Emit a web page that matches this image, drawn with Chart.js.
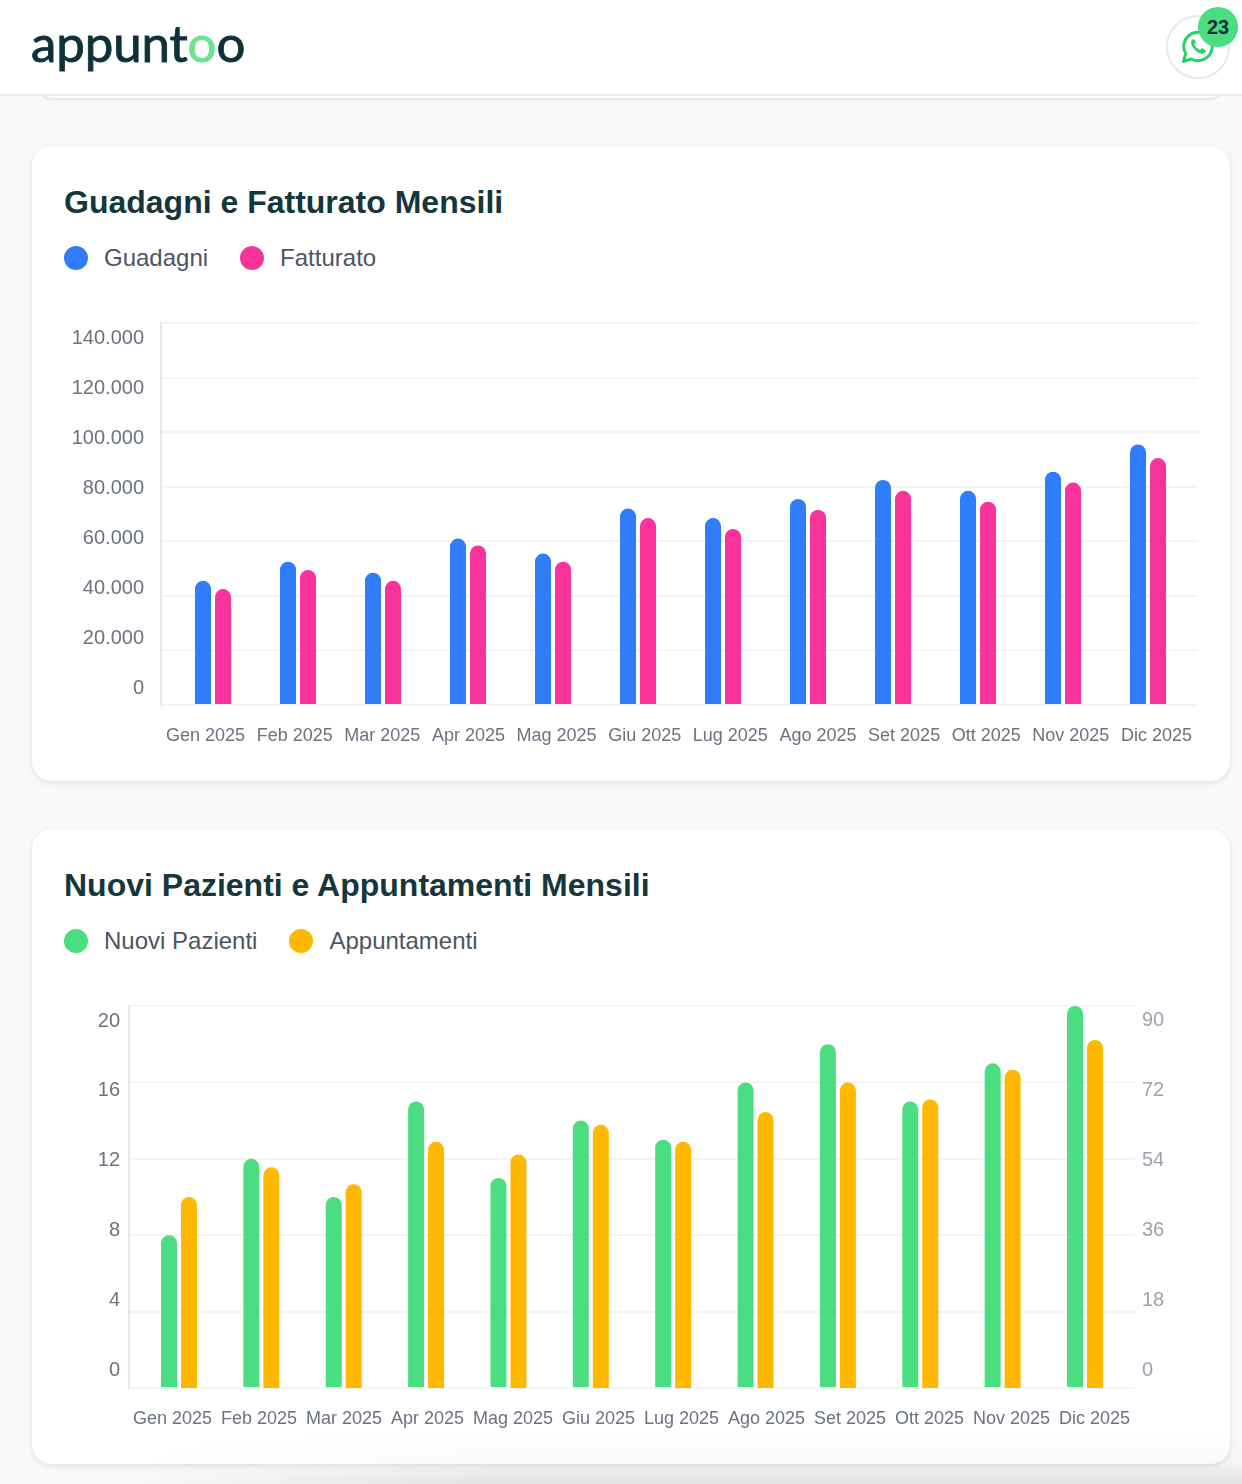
<!DOCTYPE html>
<html lang="it">
<head>
<meta charset="utf-8">
<title>Appuntoo</title>
<script src="https://cdn.jsdelivr.net/npm/chart.js@4"></script>
<style>
html, body { margin: 0; padding: 0; }
body { width: 1242px; height: 1484px; position: relative; overflow: hidden; background: #f8f9fb; font-family: "Liberation Sans", Arial, sans-serif; }
.header { position: absolute; left: 0; top: 0; width: 1242px; height: 94px; background: #fff; border-bottom: 2px solid #e8e9eb; z-index: 2; }
.logo { position: absolute; left: 31px; top: 8px; font: 400 51px/70px Lato, sans-serif; letter-spacing: -0.1px; color: #0f3139; -webkit-text-stroke: 0.9px #0f3139; }
.logo span { color: #6ee28f; -webkit-text-stroke: 0.9px #6ee28f; }
.wa { position: absolute; left: 1166px; top: 15px; width: 60px; height: 60px; border: 2px solid #e8e9eb; border-radius: 50%; background: #fff; }
.wa svg { position: absolute; left: 13px; top: 13px; }
.badge { position: absolute; left: 1198px; top: 7px; width: 40px; height: 40px; border-radius: 50%; background: #4ade80; color: #0f3139; font: 700 20px/40px "Liberation Sans", Arial, sans-serif; text-align: center; }
.stub { position: absolute; left: 36px; top: 60px; width: 1190px; height: 38px; background: #fff; border-radius: 16px; box-shadow: 0 1px 3px rgba(0,0,0,.14); }
.card { position: absolute; left: 32px; width: 1198px; background: #fff; border-radius: 20px; box-shadow: 0 2px 6px rgba(0,0,0,.10); }
.card h2 { position: absolute; left: 32px; top: 36px; margin: 0; font: 700 32px/40px "Liberation Sans", Arial, sans-serif; color: #15363b; white-space: nowrap; }
.legend { position: absolute; left: 32px; top: 96px; display: flex; gap: 32px; font: 400 24px/32px "Liberation Sans", Arial, sans-serif; color: #4b5563; }
.legend div { display: flex; align-items: center; gap: 16px; }
.legend i { display: block; width: 24px; height: 24px; border-radius: 50%; }
.card canvas { position: absolute; left: 0; top: 0; }
.fade { position: absolute; left: 0; top: 1430px; width: 1242px; height: 54px; background: linear-gradient(to bottom, rgba(0,0,0,0), rgba(0,0,0,.02) 60%, rgba(0,0,0,.09)); -webkit-mask-image: linear-gradient(to right, transparent 100px, #000 500px); mask-image: linear-gradient(to right, transparent 100px, #000 500px); }
</style>
</head>
<body>
<div class="stub"></div>
<div class="header">
  <div class="logo">appunt<span>o</span>o</div>
</div>
<div class="wa" style="z-index:3">
  <svg width="34" height="34" viewBox="0 0 34 34" fill="none">
    <path d="M2.5 31.5l2.2-8A14.2 14.2 0 1 1 10.4 29z" stroke="#25d366" stroke-width="3" stroke-linejoin="round"/>
    <path d="M11.5 9.5c-1.5 1.2-2 3-1.2 5 1.7 4.300 5 7.500 9.200 9 2 .7 3.800 0 5-1.500.6-.8.500-1.500-.2-2l-2.600-1.500c-.7-.4-1.200-.2-1.700.4l-.8 1c-2.700-1-4.800-3-5.900-5.700l.9-.9c.5-.5.6-1 .3-1.700L13.700 9.900c-.4-.8-1.300-1-2.200-.4z" fill="#25d366"/>
  </svg>
</div>
<div class="badge" style="z-index:4">23</div>

<div class="card" style="top:146px;height:635px">
  <h2>Guadagni e Fatturato Mensili</h2>
  <div class="legend" id="legend1"></div>
  <canvas id="chart1"></canvas>
</div>
<div class="card" style="top:829px;height:635px">
  <h2>Nuovi Pazienti e Appuntamenti Mensili</h2>
  <div class="legend" id="legend2"></div>
  <canvas id="chart2"></canvas>
</div>
<div class="fade"></div>

<script>
const months = ["Gen 2025","Feb 2025","Mar 2025","Apr 2025","Mag 2025","Giu 2025","Lug 2025","Ago 2025","Set 2025","Ott 2025","Nov 2025","Dic 2025"];

const guadagni = [45500,52500,48500,61000,55500,72000,68500,75500,82500,78500,85500,95500];
const fatturato = [42500,49500,45500,58500,52500,68500,64500,71500,78500,74500,81500,90500];
const moneyTicks = [0,20000,40000,60000,80000,100000,120000,140000];

const nuoviPazienti = [8,12,10,15,11,14,13,16,18,15,17,20];
const appuntamenti = [45,52,48,58,55,62,58,65,72,68,75,82];
const patientTicks = [0,4,8,12,16,20];
const visitTicks = [0,18,36,54,72,90];

const gridColor = "#f3f4f6";
const axisColor = "#e5e7eb";
const fontFamily = "'Liberation Sans', Arial, sans-serif";
const monthFont = { family: fontFamily, size: 18 };
const valueFont = { family: fontFamily, size: 20 };

function points(values){
    return values.map((v, i) => ({ x: i, y: v }));
}

function dots(v){
    return String(v).replace(/\B(?=(\d{3})+$)/g, ".");
}

function fillLegend(id, datasets){
    let box = document.getElementById(id);
    datasets.forEach(ds => {
        let item = document.createElement("div");
        let dot = document.createElement("i");
        dot.style.background = ds.backgroundColor;
        item.appendChild(dot);
        item.appendChild(document.createTextNode(ds.label));
        box.appendChild(item);
    });
}

function bar(label, values, color, axis, catPct){
    return {
        label: label,
        data: points(values),
        backgroundColor: color,
        borderRadius: 8,
        yAxisID: axis,
        xAxisID: "x",
        categoryPercentage: catPct,
        barPercentage: 0.8,
        maxBarThickness: 16
    };
}

// month labels sit edge to edge with equal gaps, not under their bars
function spacedLabels(scale, first, last){
    let ctx = scale.ctx;
    ctx.font = monthFont.size + "px " + monthFont.family;
    let widths = months.map(m => ctx.measureText(m).width);
    let total = widths.reduce((a, b) => a + b, 0);
    let gap = (last - first - total) / (months.length - 1);
    let x = first;
    scale.ticks = widths.map(w => {
        let t = { value: x + w / 2 };
        x += w + gap;
        return t;
    });
}

// this axis runs in canvas pixels, left to right of the plot
function monthAxis(areaLeft, areaRight, first, last, height){
    return {
        type: "linear",
        axis: "x",
        position: "bottom",
        offset: false,
        min: areaLeft,
        max: areaRight,
        afterBuildTicks: s => { spacedLabels(s, first, last); },
        afterFit: s => { s.height = height; s.paddingLeft = 0; s.paddingRight = 0; },
        grid: { display: false, drawTicks: false },
        border: { display: false },
        ticks: {
            autoSkip: false, maxRotation: 0, minRotation: 0, padding: 20,
            color: "#6b7280", font: monthFont,
            callback: (v, i) => months[i]
        }
    };
}

// tick labels are drawn a bit off the grid lines in the original, so they get their own axis
function labelAxis(position, min, max, values, color, width, pad, fmt){
    return {
        type: "linear",
        axis: "y",
        position: position,
        min: min,
        max: max,
        afterBuildTicks: s => { s.ticks = values.map(v => ({ value: v })); },
        afterFit: s => { s.width = width; s.paddingTop = 0; s.paddingBottom = 0; },
        grid: { display: false, drawTicks: false },
        border: { display: false },
        ticks: { padding: pad, color: color, font: valueFont, callback: fmt || (v => String(v)) }
    };
}

function gridAxis(max, step, position, showGrid){
    return {
        type: "linear",
        axis: "y",
        position: position,
        min: 0,
        max: max,
        afterFit: s => { s.width = 0; },
        grid: { display: showGrid, color: gridColor, lineWidth: 2, drawTicks: false },
        border: { display: showGrid, color: axisColor, width: 2 },
        ticks: { display: false, stepSize: step }
    };
}

function barAxis(min, max){
    return { type: "linear", offset: false, display: false, min: min, max: max };
}

let money = [
    bar("Guadagni", guadagni, "#2f7dfb", "y", 0.4706),
    bar("Fatturato", fatturato, "#f9329c", "y", 0.4706)
];
let visits = [
    bar("Nuovi Pazienti", nuoviPazienti, "#4ade80", "y", 0.485),
    bar("Appuntamenti", appuntamenti, "#ffb800", "y1", 0.485)
];
fillLegend("legend1", money);
fillLegend("legend2", visits);

function makeChart(id, datasets, padding, scales){
    let canvas = document.getElementById(id);
    canvas.style.width = "1198px";
    canvas.style.height = "635px";
    canvas.width = 1198;
    canvas.height = 635;
    return new Chart(canvas, {
        type: "bar",
        data: { datasets: datasets },
        options: {
            responsive: false,
            animation: false,
            devicePixelRatio: 1,
            layout: { padding: padding },
            plugins: { legend: { display: false }, title: { display: false }, tooltip: { enabled: false } },
            scales: scales
        }
    });
}

makeChart("chart1", money, { top: 177, right: 32, left: 0, bottom: 0 }, {
    x: barAxis(-0.612, 11.588),
    xLabels: monthAxis(129, 1166, 134, 1160, 76),
    y: gridAxis(140000, 20000, "left", true),
    yLabels: labelAxis("left", -6800, 146000, moneyTicks, "#6b7280", 129, 17, dots)
});

makeChart("chart2", visits, { top: 177, right: 55, left: 0, bottom: 0 }, {
    x: barAxis(-0.607, 11.607),
    xLabels: monthAxis(97, 1103, 101, 1098, 76),
    y: gridAxis(20, 4, "left", true),
    y1: gridAxis(90, 18, "right", false),
    yLabels: labelAxis("left", -1.03, 20.86, patientTicks, "#6b7280", 97, 9),
    yLabelsRight: labelAxis("right", -4.64, 93.86, visitTicks, "#9ca3af", 40, 7)
});
</script>
</body>
</html>
